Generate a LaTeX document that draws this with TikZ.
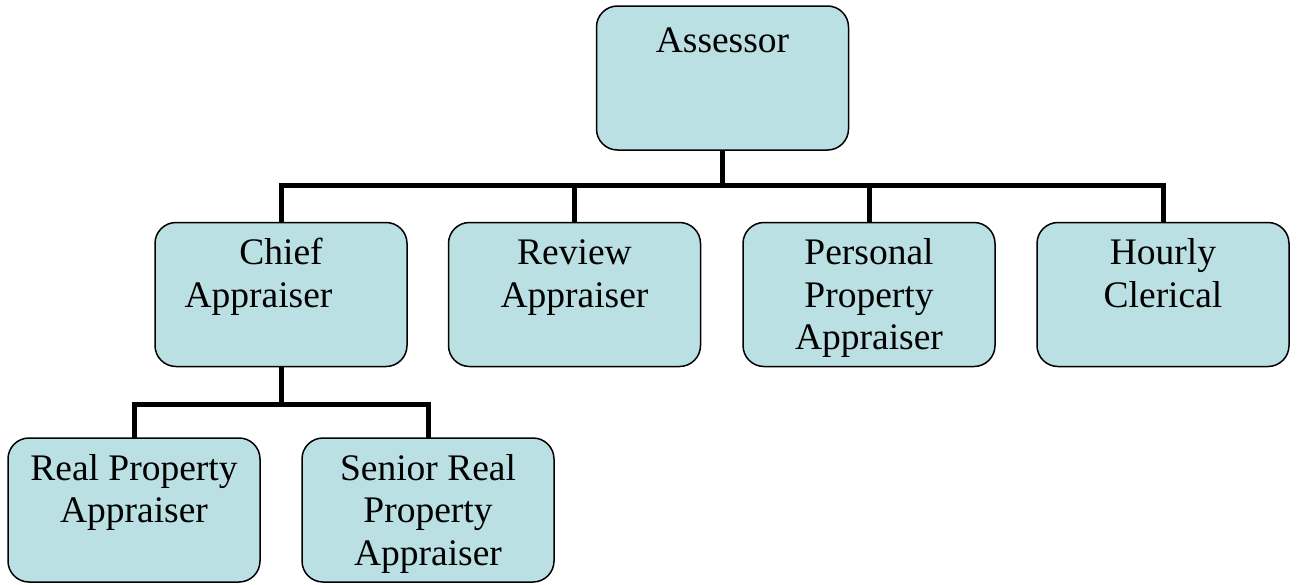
\documentclass[tikz,border=0pt]{standalone}
\usepackage{fontspec}
\setmainfont{Liberation Serif}
\definecolor{boxfill}{RGB}{187,224,227}
\newcommand{\boxtxt}[1]{\parbox[c][144pt][t]{252pt}{\centering\fontsize{37.5}{42.5}\selectfont\rule{0pt}{42pt}#1\par}}
\tikzset{
  orgbox/.style={draw=black, line width=1.5pt, fill=boxfill, rounded corners=21pt,
    minimum width=252pt, minimum height=144pt, inner sep=0pt, outer sep=0pt},
  conn/.style={draw=black, line width=5pt, line join=miter}
}
\begin{document}
\begin{tikzpicture}[x=1pt,y=-1pt]
\useasboundingbox (0,0) rectangle (1299,584);
\node[orgbox] (assessor) at (722.5,78) {\parbox[c][144pt][t]{252pt}{\centering\fontsize{37.5}{42.5}\selectfont\rule{0pt}{46pt}Assessor\par}};
\node[orgbox] (chief) at (281,294.5) {\boxtxt{Chief\\Appraiser\hspace*{45pt}\null}};
\node[orgbox] (review) at (574.5,294.5) {\boxtxt{Review\\Appraiser}};
\node[orgbox] (personal) at (869,294.5) {\boxtxt{Personal\\Property\\Appraiser}};
\node[orgbox] (hourly) at (1163,294.5) {\boxtxt{Hourly\\Clerical}};
\node[orgbox] (real) at (134,510) {\boxtxt{Real Property\\Appraiser}};
\node[orgbox] (senior) at (428,510) {\boxtxt{Senior Real\\Property\\Appraiser}};
\coordinate (bus1) at (722.5,185.5);
\coordinate (bus2) at (281,404);
\draw[conn] (assessor.south) -- (assessor.south |- bus1);
\draw[conn] (chief.north) -- (chief.north |- bus1) -- (hourly.north |- bus1) -- (hourly.north);
\draw[conn] (review.north) -- (review.north |- bus1);
\draw[conn] (personal.north) -- (personal.north |- bus1);
\draw[conn] (chief.south) -- (chief.south |- bus2);
\draw[conn] (real.north) -- (real.north |- bus2) -- (senior.north |- bus2) -- (senior.north);
\end{tikzpicture}
\end{document}
